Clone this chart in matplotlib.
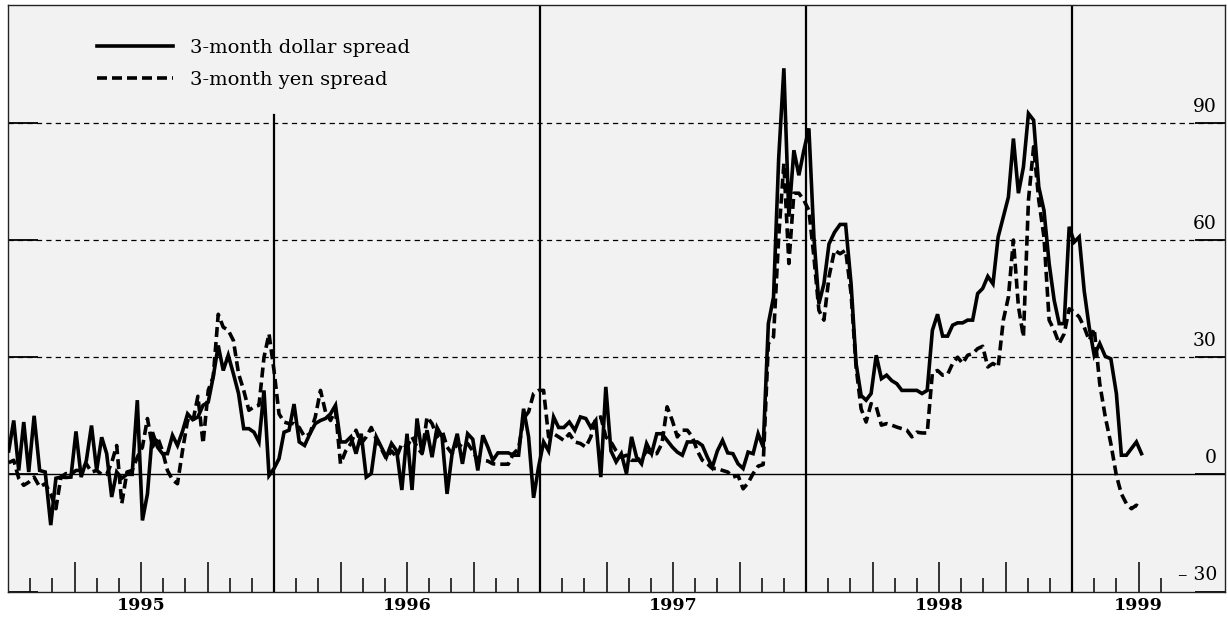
import numpy as np
import pandas as pd
import matplotlib
matplotlib.use("Agg")
import matplotlib.pyplot as plt
from matplotlib.ticker import FixedLocator, FixedFormatter
from matplotlib.transforms import blended_transform_factory

plt.rcParams['font.family'] = ['DejaVu Serif']
plt.rcParams['lines.scale_dashes'] = False

# ---------------- data ----------------
start_date = "1995-01-02"          # first weekly observation
series_labels = ["3-month dollar spread", "3-month yen spread"]

dollar = [
    6, 13.8, 1, 13.4, 0.6, 15, 1, 0.6, -13, -1,
    -0.7, -0.8, -0.7, 11, -0.7, 3.5, 12.5, 1, 9.5, 5.3,
    -5.8, 0.6, -1, 0, 0, 19, -11.8, -5, 10.8, 7,
    5.3, 5.3, 10, 7.4, 11, 15.5, 14, 14.7, 17.7, 18.5,
    25, 33, 26.6, 30.5, 25.8, 20.7, 11.7, 11.7, 10.8, 8.3,
    21.5, -0.3, 1.5, 4, 10.8, 11.3, 18, 8.3, 7.4, 10.4,
    13, 13.8, 14.3, 15.5, 17.7, 8.3, 8.3, 9.6, 5.3, 10.4,
    -0.7, 0.2, 9.6, 7, 4.4, 7.9, 6, -4, 10.4, -4,
    14.3, 5.3, 11.3, 4.4, 12, 9.6, -5, 5.3, 10.4, 2.7,
    10.4, 9, 1, 10, 7, 3.6, 5.5, 5.5, 5.5, 4.9,
    4.9, 16.8, 9.6, -6, 1.9, 8.3, 6, 14.7, 12, 12,
    13.4, 11.3, 14.7, 14.3, 12, 13.8, -0.7, 22.4, 6, 3.2,
    5.3, 0.2, 9.6, 4.4, 2.7, 7.9, 5.3, 10.4, 10.4, 8.7,
    7, 5.7, 4.9, 8.3, 8.3, 8.3, 7.4, 4.4, 1.9, 6,
    8.7, 5.5, 5.3, 2.7, 1.5, 5.7, 5.3, 10.4, 7, 38.6,
    45.4, 81, 104, 66, 83, 76.6, 83, 88.6, 60.8, 43.7,
    48.8, 59, 62, 64, 64, 48.8, 28.4, 20.2, 19, 20.7,
    30.5, 24.5, 25.4, 24, 23.2, 21.5, 21.5, 21.5, 21.5, 20.7,
    21.5, 36.9, 41, 35.4, 35.4, 38.2, 38.8, 38.8, 39.5, 39.5,
    46.3, 47.6, 50.7, 48.8, 60.8, 66, 71, 86, 72, 78.7,
    92.4, 90.7, 73.6, 67.6, 54, 44.6, 38.6, 38.6, 63.4, 59.5,
    60.8, 47, 37.7, 30.5, 33.5, 30.2, 29.6, 20.7, 4.9, 4.9,
    6.6, 8.3, 5.3,
]

yen = [
    3, 3.6, -1, -2.8, -2, -0.7, -3.2, -2.4, -5, -8.8,
    -0.7, 0.2, 0, 1, 1, 2.7, 0.6, 1, 0, 0,
    3, 7.4, -7.5, 0.6, 1, 4.4, 7, 14.3, 7, 9.6,
    6, 1, -1.4, -2.4, 6, 13.8, 13.4, 20, 7.9, 21.5,
    25, 41, 37.7, 36.9, 34.3, 25.8, 21.5, 16.4, 17.3, 17.7,
    30, 36, 26.6, 15.5, 13.4, 13, 13, 12, 9.6, 10.4,
    14.7, 21.5, 16, 13.8, 16.4, 2.7, 6, 7.9, 11.3, 7.9,
    9.6, 12, 9, 6.6, 4, 6, 4.4, 7.9, 7, 9.6,
    7, 5.3, 14.7, 13, 9.6, 11.3, 7, 5.3, 7.9, 7,
    7.9, 6, 3.6, 3.6, 3.4, 2.7, 2.6, 2.6, 2.6, 5.3,
    6.6, 14.3, 16, 20.7, 21.5, 21.5, 9.6, 10.4, 9.6, 8.7,
    10.4, 8.3, 7.9, 7, 9.6, 14.3, 14.7, 9.6, 8.3, 6,
    4.4, 4.9, 3.6, 3.6, 4, 6, 5.3, 5.3, 7.9, 17.3,
    13.8, 9.6, 11.3, 11.3, 9.6, 6, 3.6, 2.7, 1.5, 1.5,
    1, 0.6, -0.7, -0.3, -3.7, -2.2, 0.2, 2.1, 2.5, 33.5,
    35.2, 60.8, 79.6, 54, 72, 72, 70.2, 67.6, 55.7, 42,
    39.5, 50.6, 57.4, 56.5, 57.4, 46.3, 27.5, 16.8, 13.4, 18.1,
    17.3, 12.6, 13, 12.6, 12.1, 11.7, 11.3, 9.6, 10.8, 10.6,
    10.6, 26, 26.6, 25.4, 25.6, 28.4, 30, 28.4, 30.5, 30.9,
    32.2, 32.8, 27.5, 28.4, 27.5, 39.5, 45.4, 60, 43, 35.2,
    70.2, 83.9, 70.2, 60.8, 39.5, 36.9, 33.5, 36, 42.4, 41.6,
    40.3, 37.7, 34.3, 37.3, 23.2, 14.7, 7.9, -0.3, -5, -7.5,
    -8.8, -7.9, -8.8,
]

year_labels = ["1995", "1996", "1997", "1998", "1999"]
year_label_month = [6, 18, 30, 42, 51]      # months since Jan 1995 where labels sit
year_boundaries = [12, 24, 36, 48]
y_ticks = [-30, 0, 30, 60, 90]
y_tick_labels = ["\u2013 30", "0", "30", "60", "90"]

# ---------------- x positions (uniform months since Jan 1995) ----------------
dates = pd.date_range(start_date, periods=len(dollar), freq="7D")
xm = np.array([(d.year - 1995) * 12 + (d.month - 1) + (d.day - 1) / d.days_in_month
               for d in dates])

# ---------------- figure ----------------
W, H = 1228, 617
fig = plt.figure(figsize=(W / 100, H / 100), dpi=100)
fig.patch.set_facecolor("white")
ax = fig.add_axes([8 / W, 1 - 591.5 / H, (1225 - 8) / W, (591.5 - 5) / H])
ax.set_facecolor("#f2f2f2")
ax.set_xlim(0, 54.9)
ax.set_ylim(-30, 120.2)

for s in ax.spines.values():
    s.set_linewidth(1.0)
    s.set_color("#222222")

# horizontal grid
for v in [30, 60, 90]:
    ax.axhline(v, color="black", lw=0.9, linestyle=(0, (3.8, 3.0)), zorder=1)
ax.axhline(0, color="black", lw=1.0, zorder=1)

# year boundaries
for i, b in enumerate(year_boundaries):
    top = (92 + 30) / 150.2 if i == 0 else 1.0
    ax.axvline(b, ymin=0, ymax=top, color="black", lw=1.6, zorder=2)

# data
ax.plot(xm, dollar, color="black", lw=2.6, solid_joinstyle="miter", zorder=4,
        label=series_labels[0])
ax.plot(xm, yen, color="black", lw=2.6, linestyle=(0, (7.2, 3.6)), zorder=3,
        label=series_labels[1])

# x ticks
months = np.arange(1, 53)
ax.xaxis.set_minor_locator(FixedLocator([m for m in months if m % 3 != 0]))
major = [m for m in months if m % 3 == 0]
ax.xaxis.set_major_locator(FixedLocator(major))
labs = []
for m in major:
    labs.append(year_labels[year_label_month.index(m)] if m in year_label_month else "")
ax.xaxis.set_major_formatter(FixedFormatter(labs))
ax.tick_params(axis="x", which="major", direction="in", length=21.5, width=1.1,
               pad=4, labelsize=12.5, colors="black")
for lbl in ax.get_xticklabels():
    lbl.set_fontweight("semibold")
ax.tick_params(axis="x", which="minor", direction="in", length=10, width=1.1)

# y ticks (both sides, inward, labels drawn above the lines on the right)
ax.yaxis.set_major_locator(FixedLocator(y_ticks))
ax.tick_params(axis="y", which="major", direction="in", length=21.5, width=1.3,
               left=True, right=True, labelleft=False, labelright=False)
tr = blended_transform_factory(ax.transAxes, ax.transData)
for v, t in zip(y_ticks, y_tick_labels):
    ax.annotate(t, xy=(1.0, v), xycoords=tr, xytext=(-8, 7), textcoords="offset pixels",
                ha="right", va="bottom", fontsize=13.5)

# legend
leg = ax.legend(loc="upper left", bbox_to_anchor=((97 - 8) / 1217, (591.5 - 39) / 586.5),
                frameon=False, fontsize=14, handlelength=3.9, handletextpad=0.9,
                labelspacing=0.72, borderpad=0, borderaxespad=0)

fig.savefig("out.png", dpi=100, facecolor="white")
